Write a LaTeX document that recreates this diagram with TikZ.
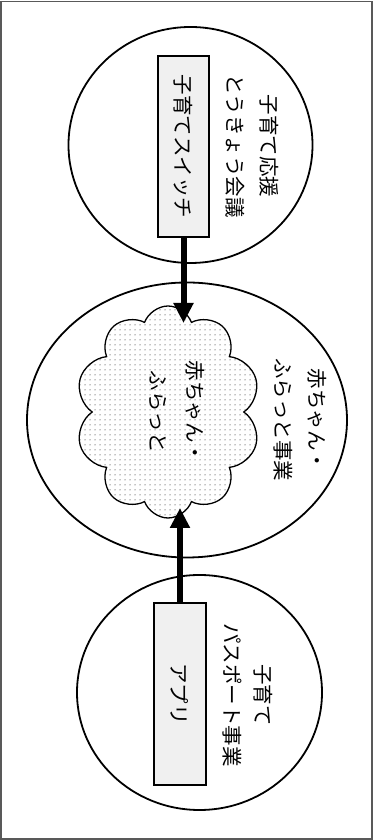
\documentclass[tikz,border=0pt]{standalone}
\usepackage{fontspec}
\newfontfamily\jp{Noto Sans CJK JP}
\usetikzlibrary{shapes.geometric,shapes.symbols,arrows.meta,patterns.meta}
\begin{document}
\begin{tikzpicture}[x=1pt,y=1pt,
  outer/.style={ellipse,draw,line width=1.8pt,inner sep=0pt},
  box/.style={rectangle,draw,line width=1.2pt,fill=black!6,inner sep=0pt},
  lbl/.style={rotate=-90,align=center,font=\jp\fontsize{20.5}{34}\selectfont,inner sep=0pt},
  bigarrow/.style={line width=6pt,-{Triangle[width=19pt,length=20pt]}}]
\useasboundingbox (0,0) rectangle (374,840);
\draw[line width=1.2pt,black!65] (1,1) rectangle (372,838.5);
% top circle
\node[outer,minimum width=244pt,minimum height=236pt] (topc) at (190.5,695) {};
\node[box,minimum width=51pt,minimum height=181pt] (topr) at (183.5,693.5) {};
\node[lbl] (toprt) at (topr.center) {子育てスイッチ};
\node[lbl] (topct) at (252.5,694) {子育て応援\\とうきょう会議};
% middle ellipse
\node[outer,minimum width=320pt,minimum height=275pt] (midc) at (187,420) {};
\node[cloud,cloud puffs=10,cloud puff arc=140,cloud ignores aspect,draw,line width=1.3pt,
  pattern={Dots[distance=5pt,radius=0.5pt]},minimum width=185pt,minimum height=212pt,inner sep=0pt] (cl) at (168,428) {};
\node[lbl,font=\jp\fontsize{20.5}{37}\selectfont] (clt) at (176.5,428) {赤ちゃん・\\ふらっと};
\node[lbl] (midt) at (300,420) {赤ちゃん・\\ふらっと事業};
% bottom circle
\node[outer,minimum width=245pt,minimum height=235pt] (botc) at (199.5,147.5) {};
\node[box,minimum width=52pt,minimum height=182pt] (botr) at (180,146) {};
\node[lbl] (botrt) at (botr.center) {アプリ};
\node[lbl,font=\jp\fontsize{20.5}{31}\selectfont] (botct) at (247.5,145) {子育て\\パスポート事業};
% arrows
\coordinate (tipA) at (183.5,517);
\coordinate (tipB) at (180,332);
\draw[bigarrow] (topr.south) -- (tipA);
\draw[bigarrow] (botr.north) -- (tipB);
\end{tikzpicture}
\end{document}
